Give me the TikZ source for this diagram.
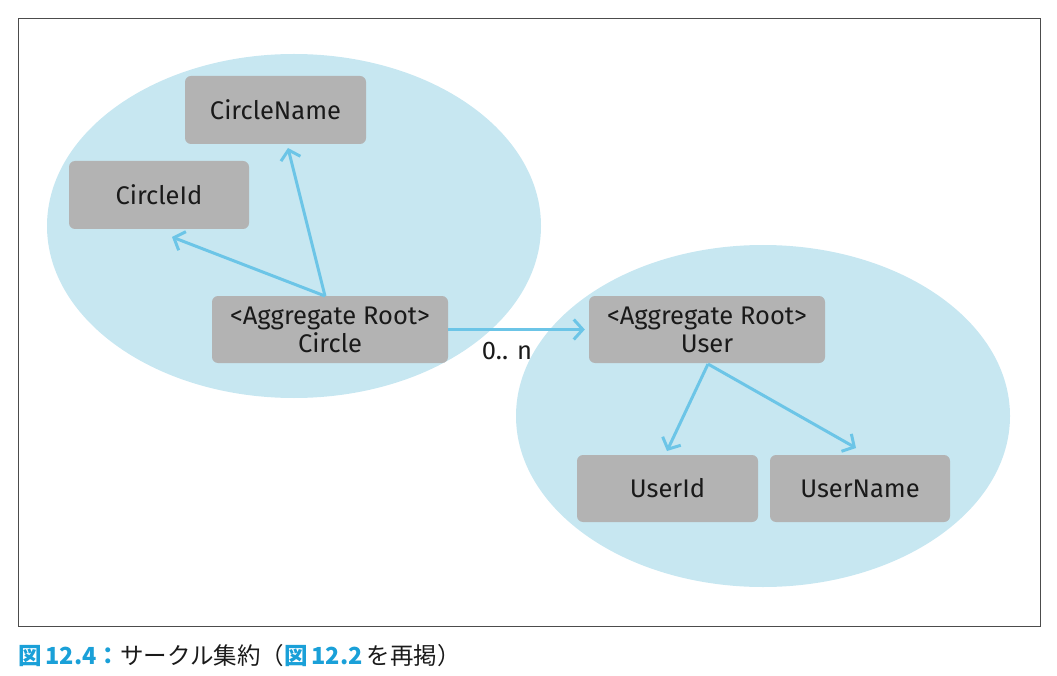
\documentclass[tikz,border=0pt]{standalone}
\usepackage{fontspec}
\setmainfont{Fira Sans}
\newfontfamily\cjk{Noto Sans CJK JP}
\usetikzlibrary{arrows.meta}
\definecolor{ellfill}{HTML}{C7E7F1}
\definecolor{boxfill}{HTML}{B3B3B3}
\definecolor{arrowc}{HTML}{6CC5E7}
\definecolor{capblue}{HTML}{1AA0D8}
\definecolor{txt}{HTML}{1A1A1A}
\tikzset{
  entity/.style={fill=boxfill, rounded corners=6pt, text=txt, font=\fontsize{25.5}{28}\selectfont, align=center, inner sep=0pt},
  rel/.style={draw=arrowc, line width=3pt, -{Straight Barb[length=9pt,width=20pt,line width=3pt]}},
}
\begin{document}
\begin{tikzpicture}[x=1pt,y=-1pt]
\useasboundingbox (0,0) rectangle (1057,676);
\draw[line width=0.8pt, draw=black!70] (18,18) rectangle (1040,626);
\fill[ellfill] (294,226) ellipse [x radius=247, y radius=172];
\fill[ellfill] (763,416) ellipse [x radius=247, y radius=171];
\node[entity, minimum width=181pt, minimum height=68pt] (cname) at (275.5,110) {CircleName};
\node[entity, minimum width=180pt, minimum height=68pt] (cid) at (159,195) {CircleId};
\node[entity, minimum width=236pt, minimum height=67pt] (circle) at (330,329.5) {<Aggregate Root>\\Circle};
\node[entity, minimum width=236pt, minimum height=67pt] (user) at (707,329.5) {<Aggregate Root>\\User};
\node[entity, minimum width=181pt, minimum height=67pt] (uid) at (667.5,488.5) {UserId};
\node[entity, minimum width=180pt, minimum height=67pt] (uname) at (860,488.5) {UserName};
\coordinate (cs) at (325,296);
\coordinate (us) at (708,364);
\draw[rel] (cs) -- (288,148);
\draw[rel] (cs) -- (172,237);
\draw[rel] (circle.east) -- ([xshift=-4pt]user.west);
\node[font=\fontsize{25.5}{28}\selectfont, text=txt] (mult) at (507,351) {0.. n};
\draw[rel] (us) -- (667,451);
\draw[rel] (us) -- (856,448);
\node[anchor=west, inner sep=0pt, font=\cjk\fontsize{23.5}{28}\selectfont, text=txt] (cap) at (18,656)
 {{\color{capblue}\bfseries 図\,12.4：}サークル集約（{\color{capblue}\bfseries 図\,12.2}\,を再掲）};
\end{tikzpicture}
\end{document}
